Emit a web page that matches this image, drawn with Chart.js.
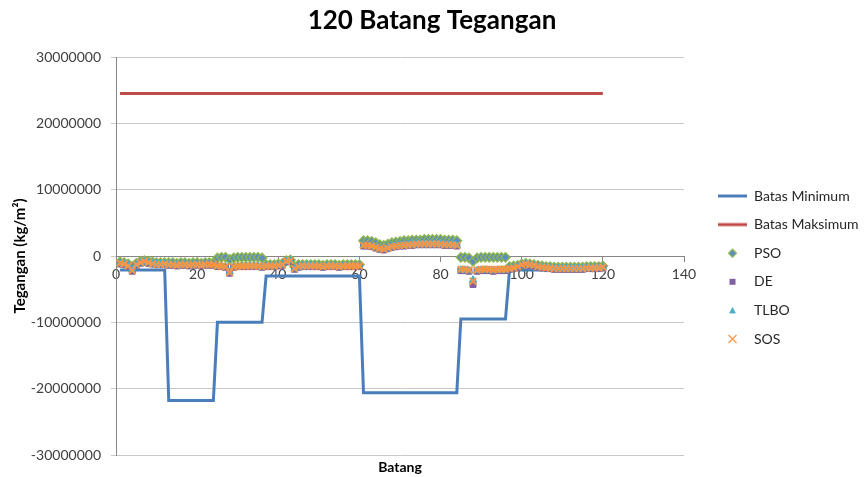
<!DOCTYPE html>
<html><head><meta charset="utf-8">
<script src="https://cdn.jsdelivr.net/npm/chart.js@4.4.1/dist/chart.umd.min.js"></script>
<style>html,body{margin:0;padding:0;background:#fff}#wrap{width:864px;height:477px}</style>
</head><body><div id="wrap"><canvas id="c" width="864" height="477"></canvas></div>
<script>
const batang = [1,2,3,4,5,6,7,8,9,10,11,12,13,14,15,16,17,18,19,20,21,22,23,24,25,26,27,28,29,30,31,32,33,34,35,36,37,38,39,40,41,42,43,44,45,46,47,48,49,50,51,52,53,54,55,56,57,58,59,60,61,62,63,64,65,66,67,68,69,70,71,72,73,74,75,76,77,78,79,80,81,82,83,84,85,86,87,88,89,90,91,92,93,94,95,96,97,98,99,100,101,102,103,104,105,106,107,108,109,110,111,112,113,114,115,116,117,118,119,120];

const batasMinimum = [
-2.1e6,-2.1e6,-2.1e6,-2.1e6,-2.1e6,-2.1e6,-2.1e6,-2.1e6,-2.1e6,-2.1e6,-2.1e6,-2.1e6,
-21.8e6,-21.8e6,-21.8e6,-21.8e6,-21.8e6,-21.8e6,-21.8e6,-21.8e6,-21.8e6,-21.8e6,-21.8e6,-21.8e6,
-10e6,-10e6,-10e6,-10e6,-10e6,-10e6,-10e6,-10e6,-10e6,-10e6,-10e6,-10e6,
-3e6,-3e6,-3e6,-3e6,-3e6,-3e6,-3e6,-3e6,-3e6,-3e6,-3e6,-3e6,
-3e6,-3e6,-3e6,-3e6,-3e6,-3e6,-3e6,-3e6,-3e6,-3e6,-3e6,-3e6,
-20.6e6,-20.6e6,-20.6e6,-20.6e6,-20.6e6,-20.6e6,-20.6e6,-20.6e6,-20.6e6,-20.6e6,-20.6e6,-20.6e6,
-20.6e6,-20.6e6,-20.6e6,-20.6e6,-20.6e6,-20.6e6,-20.6e6,-20.6e6,-20.6e6,-20.6e6,-20.6e6,-20.6e6,
-9.5e6,-9.5e6,-9.5e6,-9.5e6,-9.5e6,-9.5e6,-9.5e6,-9.5e6,-9.5e6,-9.5e6,-9.5e6,-9.5e6,
-2.1e6,-2.1e6,-2.1e6,-2.1e6,-2.1e6,-2.1e6,-2.1e6,-2.1e6,-2.1e6,-2.1e6,-2.1e6,-2.1e6,
-2.1e6,-2.1e6,-2.1e6,-2.1e6,-2.1e6,-2.1e6,-2.1e6,-2.1e6,-2.1e6,-2.1e6,-2.1e6,-2.1e6];

const batasMaksimum = [
24.5e6,24.5e6,24.5e6,24.5e6,24.5e6,24.5e6,24.5e6,24.5e6,24.5e6,24.5e6,24.5e6,24.5e6,
24.5e6,24.5e6,24.5e6,24.5e6,24.5e6,24.5e6,24.5e6,24.5e6,24.5e6,24.5e6,24.5e6,24.5e6,
24.5e6,24.5e6,24.5e6,24.5e6,24.5e6,24.5e6,24.5e6,24.5e6,24.5e6,24.5e6,24.5e6,24.5e6,
24.5e6,24.5e6,24.5e6,24.5e6,24.5e6,24.5e6,24.5e6,24.5e6,24.5e6,24.5e6,24.5e6,24.5e6,
24.5e6,24.5e6,24.5e6,24.5e6,24.5e6,24.5e6,24.5e6,24.5e6,24.5e6,24.5e6,24.5e6,24.5e6,
24.5e6,24.5e6,24.5e6,24.5e6,24.5e6,24.5e6,24.5e6,24.5e6,24.5e6,24.5e6,24.5e6,24.5e6,
24.5e6,24.5e6,24.5e6,24.5e6,24.5e6,24.5e6,24.5e6,24.5e6,24.5e6,24.5e6,24.5e6,24.5e6,
24.5e6,24.5e6,24.5e6,24.5e6,24.5e6,24.5e6,24.5e6,24.5e6,24.5e6,24.5e6,24.5e6,24.5e6,
24.5e6,24.5e6,24.5e6,24.5e6,24.5e6,24.5e6,24.5e6,24.5e6,24.5e6,24.5e6,24.5e6,24.5e6,
24.5e6,24.5e6,24.5e6,24.5e6,24.5e6,24.5e6,24.5e6,24.5e6,24.5e6,24.5e6,24.5e6,24.5e6];

const pso = [
-0.9e6,-1.0e6,-1.2e6,-1.6e6,-1.1e6,-0.8e6,-0.7e6,-0.8e6,-0.9e6,-1.0e6,-1.0e6,-1.0e6,
-1.0e6,-1.0e6,-1.1e6,-1.0e6,-1.0e6,-1.1e6,-1.0e6,-1.0e6,-1.1e6,-1.0e6,-1.0e6,-1.0e6,
-0.3e6,-0.2e6,-0.2e6,-0.5e6,-0.3e6,-0.2e6,-0.2e6,-0.2e6,-0.2e6,-0.2e6,-0.2e6,-0.3e6,
-1.3e6,-1.3e6,-1.3e6,-1.2e6,-1.1e6,-0.7e6,-0.6e6,-1.6e6,-1.3e6,-1.3e6,-1.3e6,-1.3e6,
-1.3e6,-1.3e6,-1.4e6,-1.3e6,-1.3e6,-1.3e6,-1.4e6,-1.3e6,-1.3e6,-1.3e6,-1.3e6,-1.3e6,
2.3e6,2.3e6,2.2e6,2.0e6,1.7e6,1.6e6,1.8e6,2.0e6,2.1e6,2.2e6,2.3e6,2.3e6,
2.4e6,2.4e6,2.4e6,2.5e6,2.5e6,2.5e6,2.5e6,2.5e6,2.4e6,2.4e6,2.4e6,2.3e6,
-0.2e6,-0.2e6,-0.3e6,-0.8e6,-0.3e6,-0.2e6,-0.2e6,-0.2e6,-0.2e6,-0.2e6,-0.2e6,-0.2e6,
-1.6e6,-1.5e6,-1.4e6,-1.2e6,-1.1e6,-1.2e6,-1.3e6,-1.4e6,-1.5e6,-1.6e6,-1.6e6,-1.7e6,
-1.7e6,-1.7e6,-1.7e6,-1.7e6,-1.7e6,-1.7e6,-1.7e6,-1.6e6,-1.6e6,-1.6e6,-1.6e6,-1.5e6];

const de = [
-1.2e6,-1.3e6,-1.5e6,-2.3e6,-1.4e6,-1.1e6,-0.9e6,-1.1e6,-1.2e6,-1.3e6,-1.3e6,-1.3e6,
-1.4e6,-1.4e6,-1.5e6,-1.4e6,-1.4e6,-1.5e6,-1.4e6,-1.4e6,-1.5e6,-1.4e6,-1.4e6,-1.4e6,
-1.6e6,-1.6e6,-1.7e6,-2.6e6,-1.7e6,-1.6e6,-1.6e6,-1.6e6,-1.6e6,-1.6e6,-1.6e6,-1.7e6,
-1.6e6,-1.6e6,-1.6e6,-1.5e6,-1.4e6,-0.9e6,-0.8e6,-2.0e6,-1.7e6,-1.6e6,-1.6e6,-1.6e6,
-1.6e6,-1.6e6,-1.7e6,-1.6e6,-1.6e6,-1.6e6,-1.7e6,-1.6e6,-1.6e6,-1.6e6,-1.6e6,-1.6e6,
1.5e6,1.5e6,1.4e6,1.2e6,1.0e6,0.9e6,1.1e6,1.3e6,1.4e6,1.5e6,1.5e6,1.6e6,
1.6e6,1.7e6,1.7e6,1.7e6,1.7e6,1.7e6,1.7e6,1.7e6,1.6e6,1.6e6,1.6e6,1.5e6,
-2.2e6,-2.2e6,-2.3e6,-4.3e6,-2.3e6,-2.2e6,-2.2e6,-2.2e6,-2.3e6,-2.2e6,-2.2e6,-2.2e6,
-2.0e6,-1.9e6,-1.7e6,-1.4e6,-1.3e6,-1.4e6,-1.5e6,-1.7e6,-1.8e6,-1.9e6,-1.9e6,-2.0e6,
-2.0e6,-2.0e6,-2.0e6,-2.0e6,-2.0e6,-2.0e6,-2.0e6,-1.9e6,-1.9e6,-1.9e6,-1.9e6,-1.8e6];

const tlbo = [
-1.1e6,-1.2e6,-1.4e6,-2.0e6,-1.3e6,-1.0e6,-0.8e6,-1.0e6,-1.1e6,-1.2e6,-1.2e6,-1.2e6,
-1.3e6,-1.3e6,-1.4e6,-1.3e6,-1.3e6,-1.4e6,-1.3e6,-1.3e6,-1.4e6,-1.3e6,-1.3e6,-1.3e6,
-1.5e6,-1.5e6,-1.6e6,-2.4e6,-1.6e6,-1.5e6,-1.5e6,-1.5e6,-1.5e6,-1.5e6,-1.5e6,-1.6e6,
-1.5e6,-1.5e6,-1.5e6,-1.4e6,-1.3e6,-0.8e6,-0.7e6,-1.9e6,-1.6e6,-1.5e6,-1.5e6,-1.5e6,
-1.5e6,-1.5e6,-1.6e6,-1.5e6,-1.5e6,-1.5e6,-1.6e6,-1.5e6,-1.5e6,-1.5e6,-1.5e6,-1.5e6,
1.6e6,1.6e6,1.5e6,1.3e6,1.1e6,1.0e6,1.2e6,1.4e6,1.5e6,1.6e6,1.6e6,1.7e6,
1.7e6,1.8e6,1.8e6,1.8e6,1.8e6,1.8e6,1.8e6,1.8e6,1.7e6,1.7e6,1.7e6,1.6e6,
-2.1e6,-2.1e6,-2.2e6,-3.6e6,-2.2e6,-2.1e6,-2.1e6,-2.1e6,-2.2e6,-2.1e6,-2.1e6,-2.1e6,
-1.9e6,-1.8e6,-1.6e6,-1.3e6,-1.2e6,-1.3e6,-1.4e6,-1.6e6,-1.7e6,-1.8e6,-1.8e6,-1.9e6,
-1.9e6,-1.9e6,-1.9e6,-1.9e6,-1.9e6,-1.9e6,-1.9e6,-1.8e6,-1.8e6,-1.8e6,-1.8e6,-1.7e6];

const sos = [
-1.1e6,-1.2e6,-1.5e6,-2.2e6,-1.3e6,-1.0e6,-0.8e6,-1.0e6,-1.2e6,-1.3e6,-1.3e6,-1.2e6,
-1.3e6,-1.3e6,-1.4e6,-1.3e6,-1.3e6,-1.4e6,-1.3e6,-1.3e6,-1.4e6,-1.3e6,-1.3e6,-1.3e6,
-1.5e6,-1.5e6,-1.6e6,-2.5e6,-1.6e6,-1.5e6,-1.5e6,-1.5e6,-1.5e6,-1.5e6,-1.5e6,-1.6e6,
-1.5e6,-1.5e6,-1.5e6,-1.4e6,-1.3e6,-0.8e6,-0.7e6,-1.9e6,-1.6e6,-1.5e6,-1.5e6,-1.5e6,
-1.5e6,-1.5e6,-1.6e6,-1.5e6,-1.5e6,-1.5e6,-1.6e6,-1.5e6,-1.5e6,-1.5e6,-1.5e6,-1.5e6,
1.6e6,1.6e6,1.5e6,1.3e6,1.1e6,1.0e6,1.2e6,1.4e6,1.5e6,1.6e6,1.6e6,1.7e6,
1.7e6,1.8e6,1.8e6,1.8e6,1.8e6,1.8e6,1.8e6,1.8e6,1.7e6,1.7e6,1.7e6,1.6e6,
-2.0e6,-2.0e6,-2.1e6,-3.8e6,-2.1e6,-2.0e6,-2.0e6,-2.0e6,-2.1e6,-2.0e6,-2.0e6,-2.0e6,
-1.9e6,-1.8e6,-1.6e6,-1.3e6,-1.2e6,-1.3e6,-1.4e6,-1.6e6,-1.7e6,-1.8e6,-1.8e6,-1.9e6,
-1.9e6,-1.9e6,-1.9e6,-1.9e6,-1.9e6,-1.9e6,-1.9e6,-1.8e6,-1.8e6,-1.8e6,-1.8e6,-1.7e6];

const xTicks = {min: 0, max: 140, step: 20};
const yTicks = {min: -30000000, max: 30000000, step: 10000000};

const toXY = arr => arr.map((v, i) => ({x: batang[i], y: v}));

const C = {
  min: '#4A7EBB', max: '#BE4B48',
  psoFill: '#5B8DC0', psoEdge: '#8DB451',
  de: '#7F62A1', tlbo: '#4BACC6', sos: '#F79646'
};

function makeIcon(kind) {
  const cv = document.createElement('canvas');
  cv.width = 29; cv.height = 12;
  const g = cv.getContext('2d');
  const cx = 14.5, cy = 6;
  if (kind === 'min' || kind === 'max') {
    g.strokeStyle = kind === 'min' ? C.min : C.max; g.lineWidth = 3;
    g.beginPath(); g.moveTo(0, cy); g.lineTo(29, cy); g.stroke();
  } else if (kind === 'pso') {
    g.beginPath(); g.moveTo(cx, cy - 4); g.lineTo(cx + 4, cy); g.lineTo(cx, cy + 4); g.lineTo(cx - 4, cy); g.closePath();
    g.fillStyle = C.psoFill; g.fill(); g.strokeStyle = C.psoEdge; g.lineWidth = 1.2; g.stroke();
  } else if (kind === 'de') {
    g.fillStyle = C.de; g.fillRect(cx - 3, cy - 3, 6, 6);
  } else if (kind === 'tlbo') {
    g.beginPath(); g.moveTo(cx, cy - 3.5); g.lineTo(cx + 3.5, cy + 3); g.lineTo(cx - 3.5, cy + 3); g.closePath();
    g.fillStyle = C.tlbo; g.fill();
  } else {
    g.strokeStyle = C.sos; g.lineWidth = 1.2;
    g.beginPath(); g.moveTo(cx - 4, cy - 4); g.lineTo(cx + 4, cy + 4); g.moveTo(cx + 4, cy - 4); g.lineTo(cx - 4, cy + 4); g.stroke();
  }
  return cv;
}
const icons = [makeIcon('min'), makeIcon('max'), makeIcon('pso'), makeIcon('de'), makeIcon('tlbo'), makeIcon('sos')];

const LEG_PAD = 14.6;
const legendPlace = {
  id: 'legendPlace',
  afterInit(chart) {
    const lg = chart.legend;
    const orig = lg.fit.bind(lg);
    lg.fit = function () { orig(); this.width = 180; };
  },
  afterLayout(chart) {
    const lg = chart.legend;
    lg.left = 718 - LEG_PAD; lg.right = 864;
    lg.top = 189 - LEG_PAD; lg.bottom = 477;
  }
};

const tickFont = {family: 'Lato', size: 14};
const tickColor = '#404040';

new Chart(document.getElementById('c'), {
  type: 'line',
  data: {
    datasets: [
      {label: 'Batas Minimum', data: toXY(batasMinimum), borderColor: C.min, backgroundColor: C.min, borderWidth: 3, pointRadius: 0, pointStyle: icons[0], fill: false, tension: 0, order: 6, xAxisID: 'x', yAxisID: 'y'},
      {label: 'Batas Maksimum', data: toXY(batasMaksimum), borderColor: C.max, backgroundColor: C.max, borderWidth: 3, pointRadius: 0, pointStyle: icons[1], fill: false, tension: 0, order: 5, xAxisID: 'x', yAxisID: 'y'},
      {label: 'PSO', data: toXY(pso), showLine: false, pointStyle: 'rectRot', pointRadius: 4.6, backgroundColor: C.psoFill, borderColor: C.psoEdge, pointBorderWidth: 1.5, order: 4, xAxisID: 'x', yAxisID: 'y'},
      {label: 'DE', data: toXY(de), showLine: false, pointStyle: 'rect', pointRadius: 4.2, backgroundColor: C.de, borderColor: C.de, pointBorderWidth: 1, order: 3, xAxisID: 'x', yAxisID: 'y'},
      {label: 'TLBO', data: toXY(tlbo), showLine: false, pointStyle: 'triangle', pointRadius: 4.2, backgroundColor: C.tlbo, borderColor: C.tlbo, pointBorderWidth: 1, order: 2, xAxisID: 'x', yAxisID: 'y'},
      {label: 'SOS', data: toXY(sos), showLine: false, pointStyle: 'crossRot', pointRadius: 4.6, backgroundColor: C.sos, borderColor: C.sos, pointBorderWidth: 2, order: 1, xAxisID: 'x', yAxisID: 'y'}
    ]
  },
  options: {
    responsive: false,
    animation: false,
    devicePixelRatio: 1,
    layout: {padding: 0},
    plugins: {
      title: {display: true, text: '120 Batang Tegangan', color: '#000', font: {family: 'Lato', size: 26, weight: 'bold'}, padding: {top: 5, bottom: 20.8}},
      tooltip: {enabled: false},
      legend: {
        position: 'right', align: 'start',
        labels: {
          usePointStyle: true, pointStyleWidth: 29, boxHeight: 12, padding: LEG_PAD,
          color: '#262626', font: {family: 'Lato', size: 14},
          generateLabels(chart) {
            const items = Chart.defaults.plugins.legend.labels.generateLabels(chart);
            items.sort((a, b) => a.datasetIndex - b.datasetIndex);
            items.forEach(it => { it.pointStyle = icons[it.datasetIndex]; it.rotation = 0; });
            return items;
          }
        }
      }
    },
    scales: {
      x: {
        type: 'linear', position: {y: 0}, min: xTicks.min, max: xTicks.max,
        ticks: {stepSize: xTicks.step, font: tickFont, color: tickColor, padding: 5},
        grid: {display: true, drawOnChartArea: false, drawTicks: true, tickLength: 5, color: '#868686'},
        border: {display: true, color: '#868686'}
      },
      x2: {
        type: 'linear', position: 'bottom', min: xTicks.min, max: xTicks.max,
        ticks: {display: false}, grid: {display: false}, border: {display: false},
        title: {display: true, text: 'Batang', color: '#000', font: {family: 'Lato', size: 14, weight: 'bold'}, padding: {top: 0, bottom: 1}},
        afterFit(s) { s.height = 22; }
      },
      y: {
        type: 'linear', position: 'left', min: yTicks.min, max: yTicks.max,
        ticks: {stepSize: yTicks.step, font: tickFont, color: tickColor, padding: 10, callback: v => String(v)},
        grid: {color: '#C8C8C8', tickLength: 5, drawTicks: true},
        border: {display: true, color: '#868686'},
        title: {display: true, text: 'Tegangan (kg/m²)', color: '#000', font: {family: 'Lato', size: 15, weight: 'bold'}, padding: {top: 11, bottom: 0}},
        afterFit(s) { s.width = 116; }
      }
    }
  },
  plugins: [legendPlace]
});
</script>
</body></html>
